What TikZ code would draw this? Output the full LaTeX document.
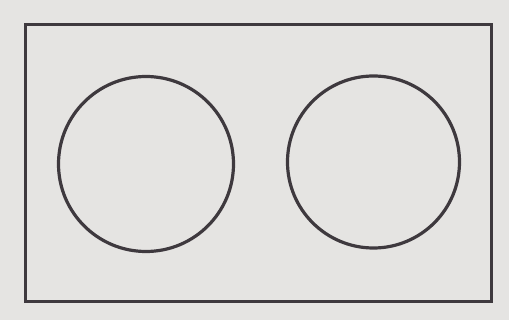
\documentclass[tikz,border=0pt]{standalone}
\definecolor{bgcol}{RGB}{229,228,226}
\definecolor{inkcol}{RGB}{62,57,62}
\tikzset{
  frame/.style={draw=inkcol, line width=3pt},
  ring/.style={circle, draw=inkcol, line width=3.2pt, inner sep=0pt},
}
\begin{document}
\begin{tikzpicture}[x=1pt,y=-1pt]
\fill[bgcol] (0,0) rectangle (509,320);
\useasboundingbox (0,0) rectangle (509,320);
\node[frame, rectangle, minimum width=466pt, minimum height=277pt, inner sep=0pt] (box) at (258,163.5) {};
\node[ring, minimum size=175pt] (left) at (146,164) {};
\node[ring, minimum size=172pt] (right) at (373.5,162) {};
\end{tikzpicture}
\end{document}
